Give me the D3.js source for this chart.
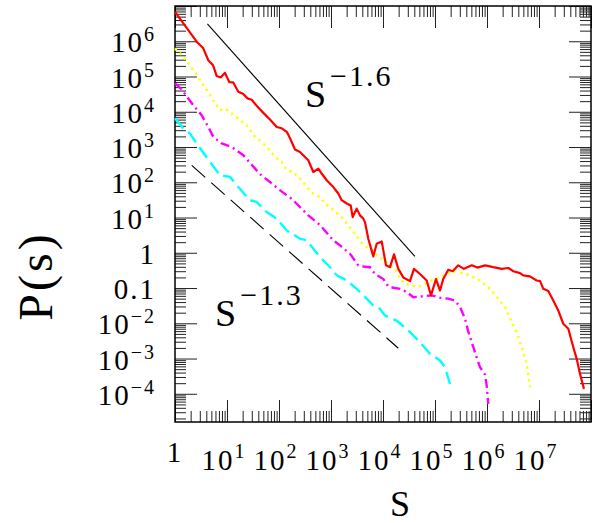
<!DOCTYPE html>
<html lang="en">
<head>
<meta charset="UTF-8">
<title>P(s)</title>
<script src="https://d3js.org/d3.v7.min.js"></script>
<style>
  body { margin: 0; background: #fff; }
  text { font-family: "Liberation Serif", "Times New Roman", serif; fill: #000; }
</style>
</head>
<body>
<svg id="chart" width="598" height="523"></svg>
<script>
// values, pairs of [s, P(s)]
var red = [
  [1, 6.8e6], [2.61, 9.7e5], [3.5, 6.3e5], [4.37, 2.9e5], [5.38, 2.1e5], [6.34, 1.03e5],
  [7.56, 9.4e4], [9.15, 1.27e5], [11.1, 6.9e4], [13.2, 6.8e4], [16.5, 3.7e4], [20.6, 3.2e4],
  [24.6, 2.4e4], [29.9, 2.2e4], [38.3, 1.4e4], [49.9, 9.3e3], [67.1, 6.0e3], [90.3, 3.7e3],
  [113, 3.4e3], [141, 2.7e3], [163, 1.78e3], [203, 850], [253, 726], [366, 422], [457, 196],
  [570, 245], [662, 177], [826, 114], [1107, 73], [1381, 48], [1607, 31], [2004, 25],
  [2392, 22], [2614, 10.3], [3119, 17.9], [3611, 11.5], [4180, 9.3], [4505, 7.4], [5212, 2.5],
  [6502, 0.79], [7568, 1.8], [9441, 2.1], [11420, 0.44], [13640, 0.39], [16290, 0.9],
  [19690, 0.35], [24550, 0.2], [33030, 0.157], [39450, 0.35], [51500, 0.25], [69200, 0.164],
  [83800, 0.062], [1.045e5, 0.18], [1.25e5, 0.085], [1.44e5, 0.18], [1.8e5, 0.33],
  [2.19e5, 0.3], [2.8e5, 0.44], [3.6e5, 0.35], [5.1e5, 0.44], [6.5e5, 0.38], [9.2e5, 0.44],
  [1.32e6, 0.39], [1.92e6, 0.35], [2.57e6, 0.37], [3.21e6, 0.3], [4.31e6, 0.265],
  [4.99e6, 0.228], [6.7e6, 0.214], [9.0e6, 0.164], [1.05e7, 0.157], [1.21e7, 0.095],
  [1.51e7, 0.082], [1.88e7, 0.044], [2.35e7, 0.023], [2.93e7, 0.0097], [3.66e7, 0.007],
  [4.57e7, 0.0021], [5.31e7, 9.8e-4], [6.14e7, 3.7e-4], [7.33e7, 1.38e-4]
];
var yellow = [
  [1, 6.3e5], [1.44, 3.6e5], [1.8, 2.36e5], [2.25, 1.52e5], [3.03, 7.9e4], [3.78, 4.9e4],
  [4.71, 2.96e4], [5.88, 1.72e4], [7.33, 1.11e4], [9.15, 1.24e4], [12.3, 8.9e3], [17.8, 5.8e3],
  [23.9, 4.2e3], [34.5, 1.94e3], [46.5, 1.4e3], [62.2, 906], [83.7, 524], [113, 378],
  [141, 219], [188, 196], [253, 127], [341, 73], [457, 48], [614, 38], [767, 25],
  [1030, 17.9], [1489, 11.5], [2153, 6.0], [3893, 1.89], [4862, 1.45], [6502, 1.17],
  [8128, 0.755], [10920, 0.61], [13640, 0.44], [17020, 0.35], [21230, 0.18], [26490, 0.132],
  [35650, 0.119], [47770, 0.106], [64270, 0.132], [86500, 0.164], [1.25e5, 0.2],
  [1.68e5, 0.25], [2.25e5, 0.3], [3.03e5, 0.28], [4.71e5, 0.228], [7.33e5, 0.164],
  [1.14e6, 0.095], [1.65e6, 0.05], [2.22e6, 0.029], [2.99e6, 0.0107], [3.73e6, 0.0056],
  [4.65e6, 0.0021], [5.8e6, 7.1e-4], [6.71e6, 1.53e-4]
];
var magenta = [
  [1, 6.4e4], [1.35, 4.3e4], [1.8, 2.39e4], [2.25, 1.54e4], [3.26, 8.0e3], [4.37, 3.7e3],
  [5.45, 1.94e3], [7.91, 1.26e3], [12.3, 1.0e3], [20.6, 585], [43.1, 169], [67.1, 102],
  [105, 59], [175, 34], [253, 19.9], [366, 11.5], [570, 6.7], [711, 4.8], [1107, 2.25],
  [1489, 1.62], [2318, 0.94], [3350, 0.44], [4505, 0.4], [5623, 0.39], [7015, 0.25],
  [10140, 0.18], [12650, 0.111], [15780, 0.102], [21230, 0.095], [28560, 0.077],
  [38280, 0.055], [55500, 0.058], [86500, 0.062], [1.25e5, 0.053], [1.8e5, 0.05],
  [2.43e5, 0.044], [3.03e5, 0.029], [3.78e5, 0.0134], [4.31e5, 0.0062], [5.46e5, 0.0021],
  [6.42e5, 1.0e-3], [7.33e5, 5.7e-4], [9.16e5, 3.5e-4], [9.86e5, 1.7e-4], [1.06e6, 5.2e-5]
];
var cyan = [
  [1, 6.5e3], [1.44, 3.4e3], [1.94, 2.42e3], [2.61, 1.26e3], [4.71, 378], [7.33, 158],
  [11.4, 142], [16.5, 73], [27.7, 31], [37.2, 27.5], [58, 14.3], [90.3, 9.3], [141, 4.3],
  [253, 2.5], [341, 2.25], [614, 0.755], [957, 0.39], [1288, 0.228], [2004, 0.164],
  [3119, 0.095], [4862, 0.05], [6502, 0.032], [8128, 0.029], [10920, 0.0167],
  [14690, 0.0134], [18340, 0.012], [33030, 0.0056], [51500, 0.0029], [80200, 0.00136],
  [1.25e5, 8.8e-4], [1.56e5, 5.7e-4], [1.94e5, 1.9e-4]
];
// power-law guide lines (end points)
var guide16 = [[4.2, 3.1e6], [4.1e4, 0.79]];
var guide13 = [[2.1, 300], [1.97e4, 1.96e-3]];

var xMajor = [1, 1e1, 1e2, 1e3, 1e4, 1e5, 1e6, 1e7, 1e8];
var xLabels = [["1", ""], ["10", "1"], ["10", "2"], ["10", "3"], ["10", "4"], ["10", "5"], ["10", "6"], ["10", "7"]];
var yMajor = [1e-4, 1e-3, 1e-2, 0.1, 1, 10, 1e2, 1e3, 1e4, 1e5, 1e6, 1e7];
var yLabels = [["10", "\u22124"], ["10", "\u22123"], ["10", "\u22122"], ["0.1", ""], ["1", ""],
               ["10", "1"], ["10", "2"], ["10", "3"], ["10", "4"], ["10", "5"], ["10", "6"]];
// annotation anchors in data units
var notes = [
  {base: "S", sup: "\u22121.6", s: 316, p: 1.35e4},
  {base: "S", sup: "\u22121.3", s: 5.9, p: 8.6e-3}
];

var svg = d3.select("#chart");
var mLeft = 175, mRight = 591, mTop = 6, mBottom = 422;

var x = d3.scaleLog().domain([1, 1e8]).range([mLeft, mRight]);
var y = d3.scaleLog().domain([Math.pow(10, -4.8), 1e7]).range([mBottom, mTop]);

function minors(lo, hi, inDomain) {
  var out = [];
  for (var d = lo; d <= hi; d++) {
    for (var k = 2; k <= 9; k++) {
      var v = k * Math.pow(10, d);
      if (inDomain(v)) out.push(v);
    }
  }
  return out;
}
var xMinor = minors(0, 7, function(v) { return v < 1e8; });
var yMinor = minors(-5, 6, function(v) { return v > y.domain()[0] && v < 1e7; });

// ticks on all four sides, pointing inwards
function tickAxis(axis, tx, ty, vals, len) {
  var g = svg.append("g")
    .attr("transform", "translate(" + tx + "," + ty + ")")
    .call(axis.tickValues(vals).tickSize(-len).tickFormat(""));
  g.select(".domain").remove();
  g.selectAll("line").attr("stroke", "#222").attr("stroke-width", 1);
}
tickAxis(d3.axisBottom(x), 0, mBottom, xMajor, 22);
tickAxis(d3.axisBottom(x), 0, mBottom, xMinor, 11);
tickAxis(d3.axisTop(x), 0, mTop, xMajor, 22);
tickAxis(d3.axisTop(x), 0, mTop, xMinor, 11);
tickAxis(d3.axisLeft(y), mLeft, 0, yMajor, 22);
tickAxis(d3.axisLeft(y), mLeft, 0, yMinor, 11);
tickAxis(d3.axisRight(y), mRight, 0, yMajor, 22);
tickAxis(d3.axisRight(y), mRight, 0, yMinor, 11);

svg.append("rect")
  .attr("x", mLeft).attr("y", mTop)
  .attr("width", mRight - mLeft).attr("height", mBottom - mTop)
  .attr("fill", "none").attr("stroke", "#000").attr("stroke-width", 1.5);

// tick labels (wide, light serif look)
xLabels.forEach(function(l, i) {
  var t = svg.append("text")
    .attr("x", x(xMajor[i]) - (l[1] ? 3 : 0))
    .attr("y", l[1] ? 470 : 462)
    .attr("text-anchor", "middle")
    .attr("font-size", 29)
    .attr("letter-spacing", 2);
  t.append("tspan").text(l[0]);
  if (l[1]) t.append("tspan").attr("dy", -12).attr("font-size", 20).text(l[1]);
});
yLabels.forEach(function(l, i) {
  var t = svg.append("text")
    .attr("x", 156)
    .attr("y", y(yMajor[i]) + 11)
    .attr("text-anchor", "end")
    .attr("font-size", 29)
    .attr("letter-spacing", 2);
  t.append("tspan").text(l[0]);
  if (l[1]) t.append("tspan").attr("dy", -11).attr("font-size", 20).text(l[1]);
});

// axis titles
svg.append("text")
  .attr("x", 400).attr("y", 516)
  .attr("text-anchor", "middle")
  .attr("font-size", 36)
  .text("S");
svg.append("text")
  .attr("transform", "translate(52,276) rotate(-90)")
  .attr("text-anchor", "middle")
  .attr("font-size", 48)
  .attr("letter-spacing", 3)
  .text("P(s)");

var line = d3.line()
  .x(function(d) { return x(d[0]); })
  .y(function(d) { return y(d[1]); });

var plot = svg.append("g");

plot.append("path").datum(guide16)
  .attr("d", line).attr("fill", "none")
  .attr("stroke", "#000").attr("stroke-width", 1.1);
plot.append("path").datum(guide13)
  .attr("d", line).attr("fill", "none")
  .attr("stroke", "#000").attr("stroke-width", 1.1)
  .attr("stroke-dasharray", "18,8");

plot.append("path").datum(cyan)
  .attr("d", line).attr("fill", "none")
  .attr("stroke", "#00ffff").attr("stroke-width", 2.4)
  .attr("stroke-dasharray", "13,6");
plot.append("path").datum(magenta)
  .attr("d", line).attr("fill", "none")
  .attr("stroke", "#ff00ff").attr("stroke-width", 2.4)
  .attr("stroke-dasharray", "9,4,2,4");
plot.append("path").datum(yellow)
  .attr("d", line).attr("fill", "none")
  .attr("stroke", "#ffff00").attr("stroke-width", 2.4)
  .attr("stroke-dasharray", "2.4,4");
plot.append("path").datum(red)
  .attr("d", line).attr("fill", "none")
  .attr("stroke", "#ff0000").attr("stroke-width", 2.2)
  .attr("stroke-linejoin", "round");

notes.forEach(function(n) {
  var t = svg.append("text")
    .attr("x", x(n.s)).attr("y", y(n.p))
    .attr("font-size", 38);
  t.append("tspan").text(n.base);
  t.append("tspan").attr("dx", 4).attr("dy", -21).attr("font-size", 30)
    .attr("letter-spacing", 2).text(n.sup);
});
</script>
</body>
</html>
